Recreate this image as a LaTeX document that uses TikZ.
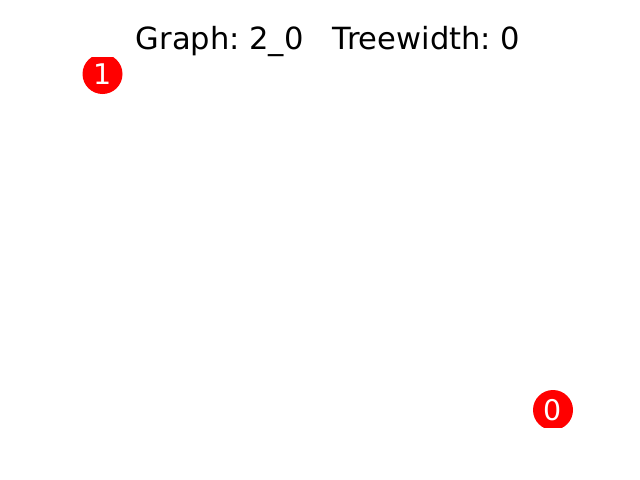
\documentclass[tikz,border=0pt]{standalone}
\usepackage{fontspec}
\setmainfont{DejaVu Sans}
\begin{document}
\begin{tikzpicture}[x=0.72pt,y=-0.72pt,
    vertex/.style={circle, fill=red, text=white, inner sep=0pt,
      minimum size=28.8pt, font=\fontsize{20.5}{24}\selectfont}]
	\useasboundingbox (0,0) rectangle (640,480);

	\node[anchor=base, font=\fontsize{22}{26}\selectfont] (title) at (328,49.5)
	  {Graph:\hspace*{0.318em}2\_0\hspace*{0.954em}Treewidth:\hspace*{0.318em}0};

	% the nodes are cut off at the edge of the axes
	\begin{scope}
	  \clip (80,57.6) rectangle (576,427.2);
	  \node[vertex] (n1) at (102.5,74) {1};
	  \node[vertex] (n0) at (553,410) {0};
	\end{scope}
\end{tikzpicture}
\end{document}
